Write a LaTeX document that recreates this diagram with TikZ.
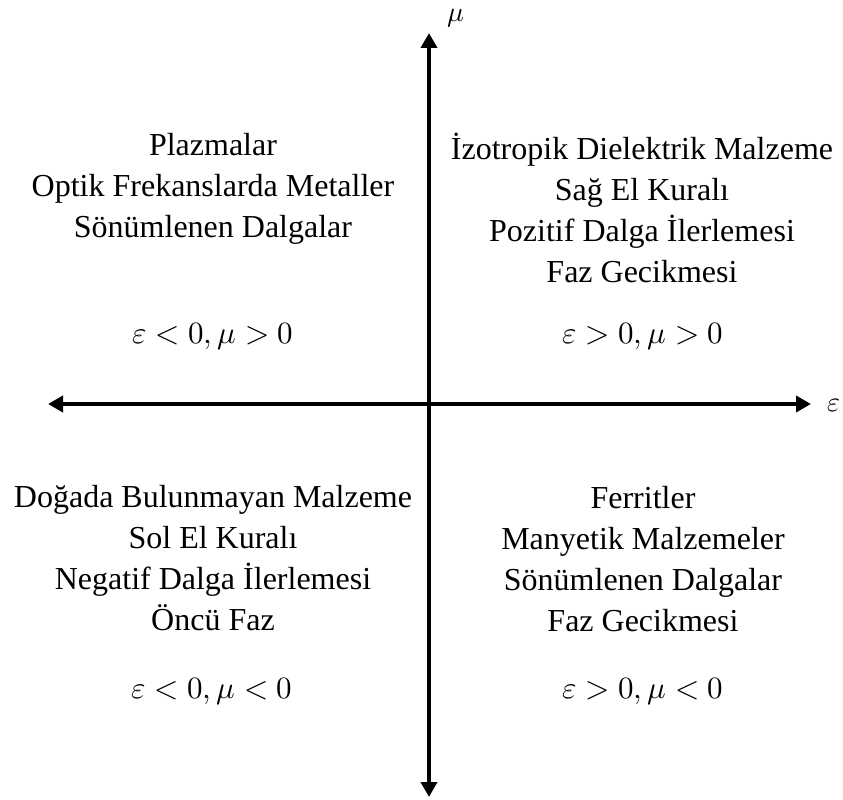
\documentclass[tikz,border=0pt]{standalone}
\usepackage{fontspec}
\usepackage{unicode-math}
\setmainfont{Liberation Serif}
\usetikzlibrary{arrows.meta}
\begin{document}
\begin{tikzpicture}[x=1pt,y=-1pt,
  axis/.style={line width=4.5pt,-{Triangle[length=15pt,width=16pt]}},
  blk/.style={align=center,font=\fontsize{32}{41}\selectfont,inner sep=0pt},
  cond/.style={font=\fontsize{31}{36}\selectfont,inner sep=0pt},
  lbl/.style={font=\fontsize{28}{32}\selectfont,inner sep=0pt}]
\useasboundingbox (0,0) rectangle (843,800);
\coordinate (O) at (429,404);
\coordinate (L) at (48,404);
\coordinate (R) at (811,404);
\coordinate (T) at (429,33);
\coordinate (B) at (429,797);
\draw[axis] (O) -- (R);
\draw[axis] (O) -- (L);
\draw[axis] (O) -- (T);
\draw[axis] (O) -- (B);
\node[lbl,anchor=base] (eps) at (834,411) {$\varepsilon$};
\node[lbl,anchor=base] (mu) at (456,22) {$\mu$};
\node[blk] (q2) at (213,189) {Plazmalar\\Optik Frekanslarda Metaller\\Sönümlenen Dalgalar};
\node[cond] (c2) at (213,337) {$\varepsilon<0,\mu>0$};
\node[blk] (q1) at (642,208) {İzotropik Dielektrik Malzeme\\Sağ El Kuralı\\Pozitif Dalga İlerlemesi\\Faz Gecikmesi};
\node[cond] (c1) at (643,337) {$\varepsilon>0,\mu>0$};
\node[blk] (q3) at (213,558) {Doğada Bulunmayan Malzeme\\Sol El Kuralı\\Negatif Dalga İlerlemesi\\Öncü Faz};
\node[cond] (c3) at (212,692) {$\varepsilon<0,\mu<0$};
\node[blk] (q4) at (643,559) {Ferritler\\Manyetik Malzemeler\\Sönümlenen Dalgalar\\Faz Gecikmesi};
\node[cond] (c4) at (643,692) {$\varepsilon>0,\mu<0$};
\end{tikzpicture}
\end{document}
